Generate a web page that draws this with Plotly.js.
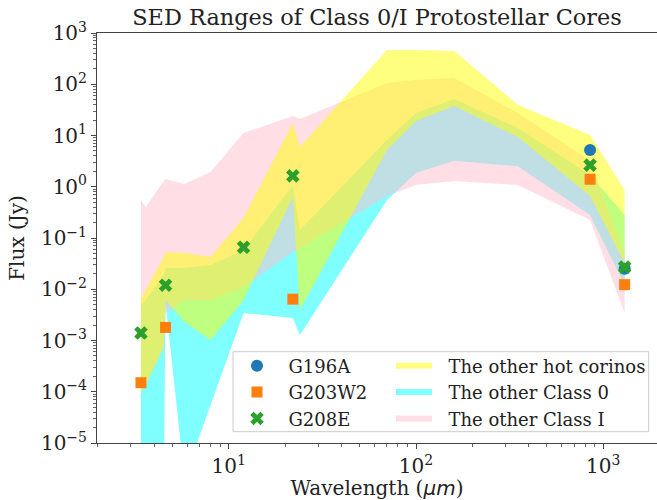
<!DOCTYPE html>
<html><head><meta charset="utf-8">
<script src="https://cdn.plot.ly/plotly-3.0.1.min.js"></script>
<style>html,body{margin:0;padding:0;background:#fff;overflow:hidden}</style>
</head><body><div id="chart" style="width:657px;height:500px"></div>
<script>
// Band wavelengths (micron)
const wavelengths = [3.4, 3.6, 4.5, 4.6, 5.8, 8.0, 12, 22, 24, 70, 100, 160, 350, 850, 1300];
// The other hot corinos (Jy)
const hotUpper = [0.00675, 0.00966, 0.0426, 0.053, 0.051, 0.0426, 0.245, 17.5, 5.97, 466, 466, 446, 39.4, 10.2, 0.865];
const hotLower = [9.9e-5, 1.35e-4, 7.5e-4, 0.00617, 0.0023, 0.00102, 0.00617, 0.63, 0.00394, 5.2, 19.2, 37.6, 9.35, 0.66, 0.0325];
// The other Class 0
const c0Upper = [0.00493, 0.00617, 0.019, 0.026, 0.026, 0.0297, 0.058, 1.08, 0.143, 8.2, 27.5, 51.5, 14, 1.7, 0.28];
const c0Lower = [1e-6, 1e-6, 1e-6, 0.0054, 2.1e-6, 5.5e-5, 0.00344, 0.00275, 0.00128, 0.55, 1.85, 3.2, 2.5, 0.28, 0.0121];
// The other Class I
const c1Upper = [0.55, 0.40, 1.3, 1.42, 1.13, 1.94, 11.2, 24, 21, 106, 121, 132, 27.5, 3.3, 0.0466];
const c1Lower = [9.9e-5, 1.35e-4, 7.5e-4, 0.00344, 0.00617, 0.00617, 0.0111, 0.053, 0.064, 0.66, 1.08, 1.3, 1.08, 0.224, 0.00344];

// Sources
const g196aWave = [850, 1300];
const g196aFlux = [5.2, 0.025];
const g203w2Wave = [3.4, 4.6, 22, 850, 1300];
const g203w2Flux = [1.5e-4, 1.8e-3, 6.4e-3, 1.4, 0.0123];
const g208eWave = [3.4, 4.6, 12, 22, 850, 1300];
const g208eFlux = [1.4e-3, 0.012, 0.066, 1.63, 2.64, 0.027];

// Tick labels
const yTickVals = [1e-5, 1e-4, 1e-3, 1e-2, 1e-1, 1, 10, 100, 1000];
const yTickText = ['10<sup>\u22125</sup>', '10<sup>\u22124</sup>', '10<sup>\u22123</sup>', '10<sup>\u22122</sup>', '10<sup>\u22121</sup>', '10<sup>0</sup>', '10<sup>1</sup>', '10<sup>2</sup>', '10<sup>3</sup>'];
const xTickVals = [10, 100, 1000];
const xTickText = ['10<sup>1</sup>', '10<sup>2</sup>', '10<sup>3</sup>'];

function minorVals(lo, hi) {
  const v = [];
  for (let e = lo; e <= hi; e++) for (let m = 2; m <= 9; m++) v.push(m * Math.pow(10, e));
  return v;
}
const GAP = '\u00a0\u00a0';
function band(upper, lower, name, color, rank) {
  return {
    x: wavelengths.concat(wavelengths.slice().reverse()),
    y: upper.concat(lower.slice().reverse()),
    type: 'scatter', mode: 'none', fill: 'toself', fillcolor: color,
    name: GAP + name, legend: 'legend2', legendrank: rank, hoverinfo: 'skip'
  };
}
const FONT = 'DejaVu Serif';
const traces = [
  band(c0Upper, c0Lower, 'The other Class 0', 'rgba(0,255,255,0.5)', 2),
  band(c1Upper, c1Lower, 'The other Class I', 'rgba(255,192,203,0.5)', 3),
  band(hotUpper, hotLower, 'The other hot corinos', 'rgba(255,255,0,0.5)', 1),
  {x: g196aWave, y: g196aFlux, type: 'scatter', mode: 'markers', name: GAP + 'G196A',
   marker: {symbol: 'circle', size: 12, color: '#1f77b4'}},
  {x: g203w2Wave, y: g203w2Flux, type: 'scatter', mode: 'markers', name: GAP + 'G203W2',
   marker: {symbol: 'square', size: 11, color: '#ff7f0e'}},
  {x: g208eWave, y: g208eFlux, type: 'scatter', mode: 'markers', name: GAP + 'G208E',
   marker: {symbol: 'x', size: 12, color: '#2ca02c'}}
];
const axisCommon = {
  type: 'log', showgrid: false, zeroline: false, showline: true, linecolor: '#444', linewidth: 1,
  ticks: 'outside', ticklen: 5, tickwidth: 1, tickcolor: '#444', tickmode: 'array',
  tickfont: {family: FONT, size: 20, color: '#222'}
};
const layout = {
  width: 657, height: 500,
  margin: {l: 97, r: 0, t: 33, b: 57},
  paper_bgcolor: '#fff', plot_bgcolor: '#fff',
  title: {text: 'SED Ranges of Class 0/I Protostellar Cores', font: {family: FONT, size: 22.4, color: '#222'},
          x: 0.5, xref: 'paper', xanchor: 'center', y: 1 - 17 / 500, yref: 'container', yanchor: 'middle'},
  xaxis: Object.assign({}, axisCommon, {
    range: [0.2968, 3.2867], tickvals: xTickVals, ticktext: xTickText, mirror: true,
    minor: {tickmode: 'array', tickvals: minorVals(0, 3), ticks: 'outside', ticklen: 3, tickcolor: '#666'},
    title: {text: 'Wavelength (<span style="font-family:DejaVu Sans"><i>\u03bcm</i></span>)', font: {family: FONT, size: 20, color: '#222'}, standoff: 0}
  }),
  yaxis: Object.assign({}, axisCommon, {
    range: [-5, 3], tickvals: yTickVals, ticktext: yTickText,
    minor: {tickmode: 'array', tickvals: minorVals(-5, 2), ticks: 'outside', ticklen: 3, tickcolor: '#666'},
    title: {text: 'Flux (Jy)', font: {family: FONT, size: 20, color: '#222'}, standoff: 10}
  }),
  legend: {x: 0.25, y: 0.233, xanchor: 'left', yanchor: 'top', bgcolor: 'rgba(0,0,0,0)', borderwidth: 0,
           font: {family: FONT, size: 18, color: '#222'}},
  legend2: {x: 0.525, y: 0.233, xanchor: 'left', yanchor: 'top', bgcolor: 'rgba(0,0,0,0)', borderwidth: 0,
            itemwidth: 36, font: {family: FONT, size: 18, color: '#222'}},
  shapes: [{type: 'rect', xref: 'paper', yref: 'paper', x0: 0.2429, x1: 0.9852, y0: 0.0276, y1: 0.2227,
            line: {color: '#cccccc', width: 1}, fillcolor: 'rgba(255,255,255,0.8)', layer: 'above'}]
};
Plotly.newPlot('chart', traces, layout, {displayModeBar: false, staticPlot: true});
</script></body></html>
